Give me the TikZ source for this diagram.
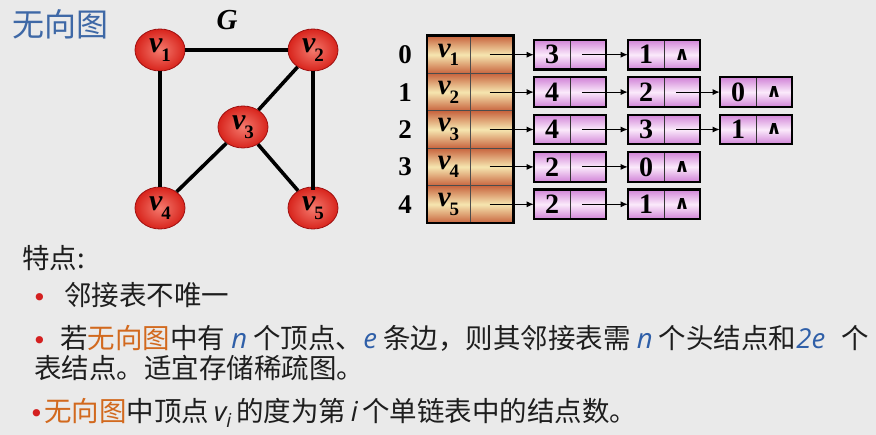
\documentclass[tikz,border=0pt]{standalone}
\usepackage{fontspec}
\usetikzlibrary{shapes.geometric,arrows.meta}
\newfontfamily\cjk{Noto Sans CJK SC}
\newfontfamily\tnr{Liberation Serif}
\newfontfamily\lat{Open Sans}
\newfontfamily\djv{DejaVu Sans}
\definecolor{bg}{HTML}{EAEAEA}
\definecolor{titleblue}{HTML}{3E68A6}
\definecolor{txt}{HTML}{1E1E1E}
\definecolor{orng}{HTML}{D2691E}
\definecolor{nblue}{HTML}{2F5FA8}
\definecolor{bul}{HTML}{D42020}
\definecolor{redin}{HTML}{F47A6E}
\definecolor{redout}{HTML}{D8241C}
\definecolor{redline}{HTML}{A01010}
\definecolor{hdedge}{HTML}{C8643E}
\definecolor{hdmid}{HTML}{F6E6B0}
\definecolor{pkedge}{HTML}{D286D8}
\definecolor{pkmid}{HTML}{FBEAFB}
\newcommand\vlab[1]{{\itshape v}\kern-1pt\raisebox{-0.3em}{\fontsize{19}{19}\selectfont #1}}
\newcommand\nil{\raisebox{-6pt}{\djv\bfseries\fontsize{19}{19}\selectfont ∧}}
\newcommand\bull{{\djv\fontsize{25}{25}\selectfont •}}
\newcommand\lnode[5]{%
  \node[lcell] (#1a) at (#2+18,#3) {#4};
  \node[lcell] (#1b) at (#2+54,#3) {#5};
  \draw[line width=2.2pt] (#1a.north west) rectangle (#1b.south east);}
\tikzset{
  gnode/.style={ellipse, minimum width=50pt, minimum height=42pt, inner sep=0pt,
    draw=redline, line width=0.8pt, inner color=redin, outer color=redout,
    font=\tnr\bfseries\fontsize{30}{30}\selectfont},
  gedge/.style={line width=3.6pt, draw=black},
  hcell/.style={rectangle, minimum width=43pt, minimum height=37.4pt, inner sep=0pt,
    draw=black!70, line width=0.6pt, top color=hdedge, bottom color=hdedge, middle color=hdmid,
    font=\tnr\bfseries\fontsize{29}{29}\selectfont},
  lcell/.style={rectangle, minimum width=36pt, minimum height=29pt, inner sep=0pt,
    draw=black!80, line width=0.6pt, top color=pkedge, bottom color=pkedge, middle color=pkmid,
    font=\tnr\bfseries\fontsize{28}{28}\selectfont},
  idx/.style={font=\tnr\bfseries\fontsize{27}{27}\selectfont, inner sep=0pt},
  arr/.style={-{Latex[length=7pt,width=6pt]}, line width=1pt},
  tx/.style={anchor=base west, inner sep=0pt, font=\cjk\fontsize{27.5}{27.5}\selectfont, text=txt},
}
\begin{document}
\begin{tikzpicture}[x=1pt,y=-1pt]
\fill[bg] (0,0) rectangle (876,435);
\useasboundingbox (0,0) rectangle (876,435);
% title
\node[anchor=west, inner sep=0pt, font=\cjk\fontsize{32}{32}\selectfont, text=titleblue] (title) at (12,24) {无向图};
\node[font=\tnr\bfseries\itshape\fontsize{29}{29}\selectfont, inner sep=0pt] (G) at (227,20) {G};
% graph
\node[gnode] (v1) at (160,50) {\vlab{1}};
\node[gnode] (v2) at (313,50) {\vlab{2}};
\node[gnode] (v3) at (243,127) {\vlab{3}};
\node[gnode] (v4) at (160,208) {\vlab{4}};
\node[gnode] (v5) at (313,208) {\vlab{5}};
\draw[gedge] (v1) -- (v2);
\draw[gedge] (v1) -- (v4);
\draw[gedge] (v2) -- (v3);
\draw[gedge] (v2.south) -- ([yshift=-3pt]v5.north);
\draw[gedge] (v3) -- (v4);
\draw[gedge] (v3) -- (v5);
% head table
\foreach \i/\yy in {0/54.7,1/92.1,2/129.5,3/166.9,4/204.3} {
  \node[idx] (ix\i) at (405,\yy) {\i};
  \node[hcell] (ha\i) at (448.5,\yy) {\vlab{\the\numexpr\i+1\relax}};
  \node[hcell] (hb\i) at (491.5,\yy) {};
}
\draw[line width=2.4pt] (ha0.north west) rectangle (hb4.south east);
% lists
\lnode{r0n1}{534}{54.7}{3}{}
\lnode{r0n2}{628}{54.7}{1}{\nil}
\lnode{r1n1}{534}{92.1}{4}{}
\lnode{r1n2}{628}{92.1}{2}{}
\lnode{r1n3}{720}{92.1}{0}{\nil}
\lnode{r2n1}{534}{129.5}{4}{}
\lnode{r2n2}{628}{129.5}{3}{}
\lnode{r2n3}{720}{129.5}{1}{\nil}
\lnode{r3n1}{534}{166.9}{2}{}
\lnode{r3n2}{628}{166.9}{0}{\nil}
\lnode{r4n1}{534}{204.3}{2}{}
\lnode{r4n2}{628}{204.3}{1}{\nil}
\foreach \i in {0,...,4} {
  \draw[arr] ([xshift=-2pt]hb\i.center) -- (r\i n1a.west);
  \draw[arr] ([xshift=-6pt]r\i n1b.center) -- (r\i n2a.west);
}
\draw[arr] ([xshift=-6pt]r1n2b.center) -- (r1n3a.west);
\draw[arr] ([xshift=-6pt]r2n2b.center) -- (r2n3a.west);
% text
\node[tx] (f0) at (22,269) {特点:};
\node[tx, text=bul] (b1) at (32,307) {\bull};
\node[tx] (l1) at (64,306) {邻接表不唯一};
\node[tx, text=bul] (b2) at (32,350) {\bull};
\node[tx] (l2) at (60,349) {若\textcolor{orng}{无向图}中有 \textcolor{nblue}{\lat\itshape n} 个顶点、\textcolor{nblue}{\lat\itshape e} 条边，则其邻接表需 \textcolor{nblue}{\lat\itshape n} 个头结点和\textcolor{nblue}{\lat\itshape 2e}\hspace{0.6em}个};
\node[tx] (l3) at (34,379) {表结点。适宜存储稀疏图。};
\node[tx, text=bul] (b3) at (29,423) {\bull};
\node[tx] (l4) at (44,422) {\textcolor{orng}{无向图}中顶点\,{\lat\itshape v\textsubscript{i}}\,的度为第\,{\lat\itshape i}\,个单链表中的结点数。};
\end{tikzpicture}
\end{document}
